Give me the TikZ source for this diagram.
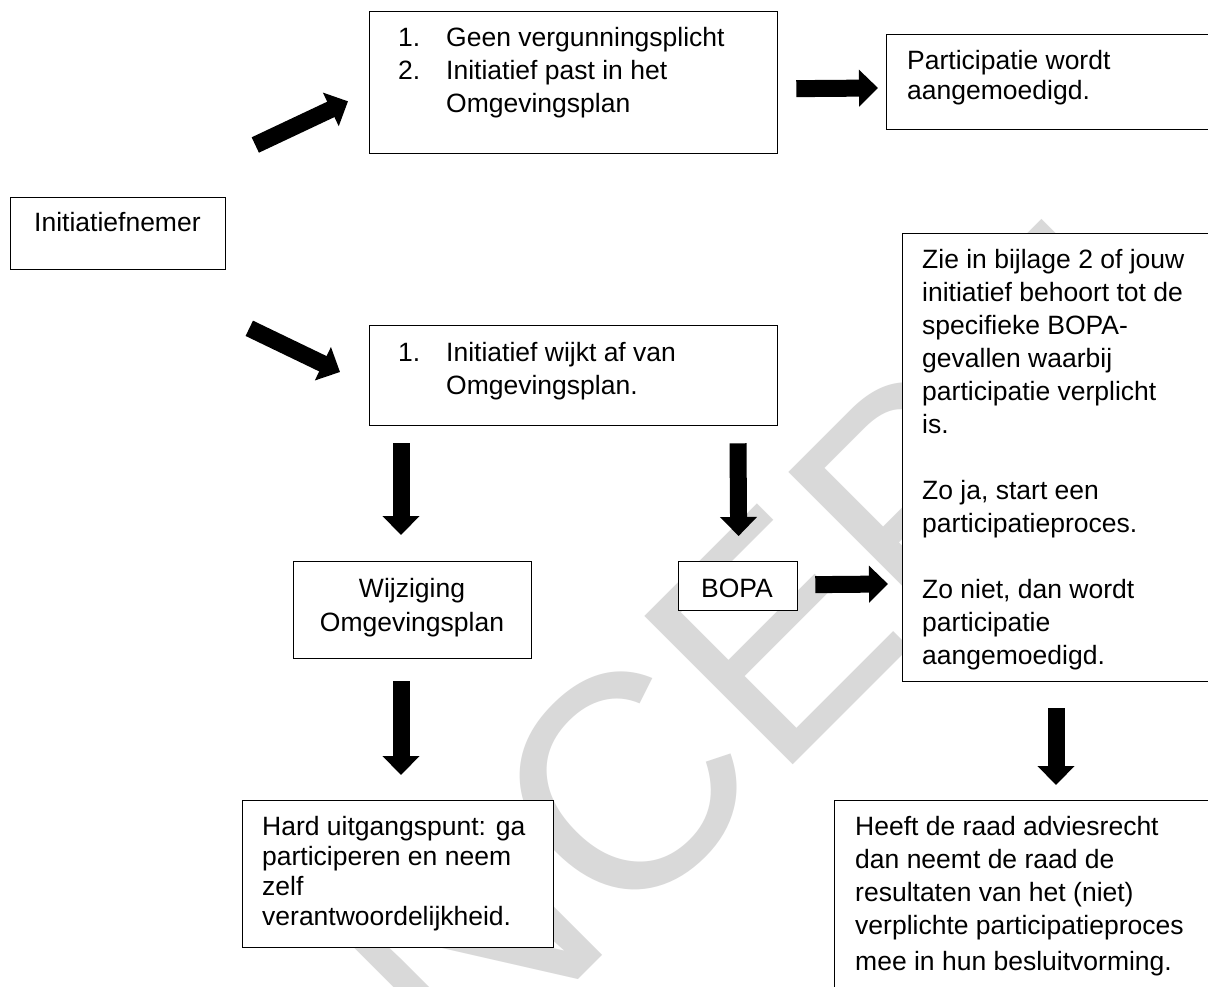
\documentclass[tikz,border=0pt]{standalone}
\usepackage{fontspec}
\setmainfont{Liberation Sans}
\usetikzlibrary{arrows.meta,calc}
\newcommand{\dfont}{\fontsize{26.5}{33}\selectfont}
\newcommand{\dfontb}{\fontsize{26.5}{30}\selectfont}
\begin{document}
\begin{tikzpicture}[x=1pt,y=-1pt,
  box/.style={draw=black, line width=1.3pt, fill=white, anchor=north west, inner sep=0pt},
  blockarrow/.style={line width=17pt, -{Triangle[length=19pt,width=36pt]}},
  txt/.style={anchor=base west, inner sep=0pt, align=left, font=\dfont},
  wmark/.style={rotate=45, text=black!15, inner sep=0pt, font=\fontsize{305}{305}\selectfont}]
\useasboundingbox (0,0) rectangle (1208,987);
\fill[white] (0,0) rectangle (1208,987);
% watermark
\node[wmark] (wm) at (594,816) {CONCEPT};
% boxes
\node[box, minimum width=408pt, minimum height=142pt] (box1) at (369,11) {};
\node[box, minimum width=340pt, minimum height=95pt] (part) at (886,34) {};
\node[box, minimum width=215pt, minimum height=72pt] (init) at (10,197) {};
\node[box, minimum width=408pt, minimum height=100pt] (box2) at (369,325) {};
\node[box, minimum width=330pt, minimum height=448pt] (zie) at (902,233) {};
\node[box, minimum width=238pt, minimum height=97pt] (wijz) at (293,561) {};
\node[box, minimum width=119pt, minimum height=49pt] (bopa) at (678,561) {};
\node[box, minimum width=311pt, minimum height=147pt] (hard) at (242,800) {};
\node[box, minimum width=400pt, minimum height=210pt] (heeft) at (834,800) {};
% texts
\node[txt] (t1) at (398,47) {\begin{tabular}[t]{@{}p{48pt}@{}l@{}}1. & Geen vergunningsplicht\\ 2. & Initiatief past in het\\ & Omgevingsplan\end{tabular}};
\node[txt, font=\dfontb] (tpart) at (907,70) {\begin{tabular}[t]{@{}l@{}}Participatie wordt\\ aangemoedigd.\end{tabular}};
\node[txt] (tinit) at (34,232) {Initiatiefnemer};
\node[txt] (t2) at (398,361) {\begin{tabular}[t]{@{}p{48pt}@{}l@{}}1. & Initiatief wijkt af van\\ & Omgevingsplan.\end{tabular}};
\node[txt] (tzie) at (922,269) {\begin{tabular}[t]{@{}l@{}}Zie in bijlage 2 of jouw\\ initiatief behoort tot de\\ specifieke BOPA-\\ gevallen waarbij\\ participatie verplicht\\ is.\\ \\ Zo ja, start een\\ participatieproces.\\ \\ Zo niet, dan wordt\\ participatie\\ aangemoedigd.\end{tabular}};
\node[txt, anchor=base, font=\fontsize{26.5}{34}\selectfont] (twijz) at (412,597) {\begin{tabular}[t]{@{}c@{}}Wijziging\\ Omgevingsplan\end{tabular}};
\node[txt, anchor=base] (tbopa) at (737,597) {BOPA};
\node[txt, font=\dfontb] (thard) at (262,835) {\begin{tabular}[t]{@{}l@{}}Hard uitgangspunt: ga\\ participeren en neem\\ zelf\\ verantwoordelijkheid.\end{tabular}};
\node[txt] (theeft) at (855,835) {\begin{tabular}[t]{@{}l@{}}Heeft de raad adviesrecht\\ dan neemt de raad de\\ resultaten van het (niet)\\ verplichte participatieproces\\[3pt] mee in hun besluitvorming.\end{tabular}};
% arrows
\draw[blockarrow] ($(init.north east)+(29,-52)$) -- ($(box1.south west)+(-21,-53)$);
\draw[blockarrow] ($(init.south east)+(23,58)$) -- ($(box2.north west)+(-29,47)$);
\draw[blockarrow] ($(box1.east)+(18,6)$) -- ($(part.north west)+(-8,54)$);
\draw[blockarrow] ($(box2.south west)+(32,17)$) -- ($(wijz.north west)+(108,-26)$);
\draw[blockarrow] ($(box2.south west)+(369,17)$) -- ($(bopa.north)+(0.5,-25)$);
\draw[blockarrow] ($(wijz.south west)+(108,22)$) -- ($(hard.north west)+(159,-25)$);
\draw[blockarrow] ($(bopa.east)+(17,-1.5)$) -- ($(zie.north west)+(-14,351)$);
\draw[blockarrow] ($(zie.south west)+(154,26)$) -- ($(heeft.north west)+(222,-15)$);
\end{tikzpicture}
\end{document}
